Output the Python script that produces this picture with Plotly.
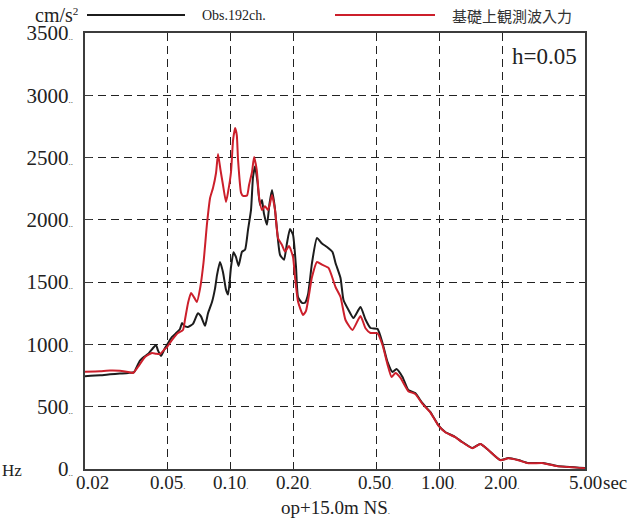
import math
import plotly.graph_objects as go

# Acceleration response spectra (h=0.05), period in seconds, acceleration in cm/s^2
obs_name = "Obs.192ch."
obs_period = [0.0200, 0.0236, 0.0264, 0.0294, 0.0322, 0.0344, 0.0351, 0.0367, 0.0384, 0.0401,
              0.0424, 0.0438, 0.0448, 0.0463, 0.0484, 0.0500, 0.0523, 0.0546, 0.0571, 0.0584,
              0.0597, 0.0624, 0.0659, 0.0696, 0.0720, 0.0753, 0.0778, 0.0813, 0.0841, 0.0860,
              0.0888, 0.0918, 0.0949, 0.0971, 0.1003, 0.1031, 0.1060, 0.1090, 0.1133, 0.1171,
              0.1210, 0.1251, 0.1279, 0.1308, 0.1344, 0.1381, 0.1412, 0.1443, 0.1492, 0.1534,
              0.1577, 0.1621, 0.1667, 0.1723, 0.1801, 0.1861, 0.1924, 0.1989, 0.2056, 0.2102,
              0.2197, 0.2271, 0.2347, 0.2453, 0.2592, 0.2739, 0.2895, 0.3076, 0.3180, 0.3361,
              0.3474, 0.3671, 0.3878, 0.4190, 0.4428, 0.4680, 0.5056, 0.5343, 0.5646, 0.5966,
              0.6236, 0.6663, 0.7103, 0.7671, 0.8289, 0.9054, 0.9890, 1.0685, 1.1933, 1.2890,
              1.4410, 1.5740, 1.7190, 1.9630, 2.1440, 2.3950, 2.6740, 3.1540, 3.6710, 5.0000]
obs_accel = [745, 752, 760, 766, 771, 778, 805, 870, 900, 923,
             971, 995, 950, 907, 971, 1010, 1060, 1090, 1124, 1172,
             1150, 1140, 1165, 1250, 1225, 1150, 1250, 1340, 1450, 1560,
             1662, 1580, 1440, 1400, 1622, 1740, 1700, 1630, 1745, 1760,
             1920, 2080, 2344, 2430, 2300, 2120, 2160, 2050, 1960, 2130,
             2240, 2120, 1920, 1720, 1680, 1814, 1927, 1880, 1622, 1380,
             1333, 1335, 1400, 1654, 1854, 1810, 1782, 1742, 1654, 1533,
             1357, 1277, 1212, 1300, 1200, 1132, 1125, 1011, 860, 779,
             803, 739, 634, 610, 530, 458, 353, 297, 257, 217,
             169, 201, 153, 72, 88, 72, 48, 48, 24, 8]

inp_name = "基礎上観測波入力"
inp_period = [0.0200, 0.0236, 0.0264, 0.0294, 0.0322, 0.0340, 0.0359, 0.0388, 0.0419, 0.0438,
              0.0458, 0.0478, 0.0495, 0.0523, 0.0558, 0.0590, 0.0603, 0.0624, 0.0645, 0.0666,
              0.0688, 0.0713, 0.0740, 0.0770, 0.0796, 0.0822, 0.0850, 0.0869, 0.0893, 0.0918,
              0.0949, 0.0971, 0.1003, 0.1026, 0.1049, 0.1069, 0.1084, 0.1121, 0.1146, 0.1197,
              0.1224, 0.1265, 0.1294, 0.1333, 0.1367, 0.1412, 0.1459, 0.1509, 0.1543, 0.1577,
              0.1631, 0.1685, 0.1761, 0.1821, 0.1903, 0.1989, 0.2033, 0.2102, 0.2221, 0.2296,
              0.2453, 0.2592, 0.2739, 0.2944, 0.3180, 0.3361, 0.3551, 0.3835, 0.4190, 0.4428,
              0.4680, 0.5056, 0.5343, 0.5646, 0.5900, 0.6168, 0.6518, 0.7103, 0.7671, 0.8289,
              0.9054, 0.9890, 1.0685, 1.1933, 1.2890, 1.4410, 1.5740, 1.7190, 1.9630, 2.1440,
              2.3950, 2.6740, 3.1540, 3.6710, 5.0000]
inp_accel = [781, 785, 790, 788, 779, 771, 819, 899, 931, 925,
             923, 955, 979, 1036, 1092, 1116, 1196, 1333, 1413, 1380,
             1341, 1450, 1654, 1975, 2176, 2256, 2376, 2529, 2400, 2280,
             2143, 2224, 2384, 2641, 2738, 2680, 2481, 2216, 2192, 2195,
             2280, 2384, 2505, 2400, 2184, 2079, 2110, 2079, 2130, 2200,
             2079, 1854, 1798, 1745, 1790, 1702, 1541, 1345, 1236, 1270,
             1541, 1662, 1640, 1614, 1461, 1381, 1196, 1116, 1228, 1130,
             1092, 1090, 995, 840, 739, 771, 731, 625, 602, 525,
             455, 350, 295, 255, 215, 167, 200, 152, 70, 86,
             70, 46, 47, 23, 7]

x_tickvals = [0.02, 0.05, 0.1, 0.2, 0.5, 1.0, 2.0, 5.0]
x_ticklabels = ["0.02", "0.05", "0.10", "0.20", "0.50", "1.00", "2.00", "5.00"]
y_tickvals = [0, 500, 1000, 1500, 2000, 2500, 3000, 3500]

SERIF = "Liberation Serif"
CJK = "Noto Sans CJK JP"
DOT = "<span style='font-size:9px'>.</span>"
DOTS2 = "<span style='font-size:9px'>..</span>"
INK = "#222222"

y_ticktext = [f"{v}" + DOTS2 for v in y_tickvals]

fig = go.Figure()
fig.add_trace(go.Scatter(x=obs_period, y=obs_accel, mode="lines", name=obs_name,
                         line=dict(color="#1c1c1c", width=2, shape="spline", smoothing=0.5)))
fig.add_trace(go.Scatter(x=inp_period, y=inp_accel, mode="lines", name=inp_name,
                         line=dict(color="#cc1f2b", width=2, shape="spline", smoothing=0.5)))

axis_line = "#3c3c3c"
fig.update_xaxes(type="log", range=[math.log10(0.02), math.log10(5.0)],
                 tickvals=x_tickvals, showticklabels=False,
                 showgrid=True, gridcolor=INK, gridwidth=1.2, griddash="8px,5px",
                 showline=True, linecolor=axis_line, linewidth=1.6, mirror=True,
                 ticks="", zeroline=False)
fig.update_yaxes(range=[0, 3500], tickvals=y_tickvals, ticktext=y_ticktext,
                 showgrid=True, gridcolor=INK, gridwidth=1.2, griddash="8px,5px",
                 showline=True, linecolor=axis_line, linewidth=1.6, mirror=True,
                 ticks="inside", ticklen=7, tickcolor=axis_line, tickwidth=1.4,
                 ticklabelstandoff=6,
                 tickfont=dict(family=SERIF, size=21, color=INK),
                 zeroline=False)

# Legend drawn as line samples with labels above the frame
fig.add_shape(type="line", xref="paper", yref="paper", x0=0.004, x1=0.2, y0=1.041, y1=1.041,
              line=dict(color="#1c1c1c", width=2))
fig.add_shape(type="line", xref="paper", yref="paper", x0=0.5, x1=0.7, y0=1.041, y1=1.041,
              line=dict(color="#cc1f2b", width=2))

annotations = []
# Period labels under the frame; the first is nudged right, inner ones carry a small dot
for i, (v, lab) in enumerate(zip(x_tickvals, x_ticklabels)):
    last = i == len(x_tickvals) - 1
    txt = lab if i == 0 or last else lab + DOT
    annotations.append(dict(text=txt, x=math.log10(v), xref="x", y=-0.03, yref="paper",
                            xanchor="center", yanchor="middle", xshift=7 if i == 0 else 0,
                            font=dict(family=SERIF, size=19, color=INK)))

annotations += [
    dict(text="cm/s<span style='font-size:16px'><sup>2</sup></span>", x=-0.01, y=1.041,
         xanchor="right", yanchor="middle",
         font=dict(family=SERIF, size=20, color=INK)),
    dict(text=obs_name, x=0.23, y=1.039, xanchor="left", yanchor="middle",
         font=dict(family=SERIF, size=14, color=INK)),
    dict(text=inp_name, x=0.73, y=1.039, xanchor="left", yanchor="middle",
         font=dict(family=CJK, size=15, color="#333333")),
    dict(text="h=0.05", x=0.988, y=0.945, xanchor="right", yanchor="middle",
         font=dict(family=SERIF, size=23, color=INK)),
    dict(text="Hz", x=-0.17, y=-0.003, xanchor="left", yanchor="middle",
         font=dict(family=SERIF, size=17, color=INK)),
    dict(text="sec", x=1.031, y=-0.03, xanchor="left", yanchor="middle",
         font=dict(family=SERIF, size=19, color=INK)),
    dict(text="op+15.0m NS" + DOT, x=0.5, y=-0.089, xanchor="center", yanchor="middle",
         font=dict(family=SERIF, size=19, color=INK)),
]
for a in annotations:
    a.setdefault("xref", "paper")
    a.setdefault("yref", "paper")
    a["showarrow"] = False
fig.update_layout(annotations=annotations)

fig.update_layout(width=636, height=525, margin=dict(l=85, r=51, t=33, b=56),
                  paper_bgcolor="white", plot_bgcolor="white", showlegend=False)

fig.write_html("out.html")
